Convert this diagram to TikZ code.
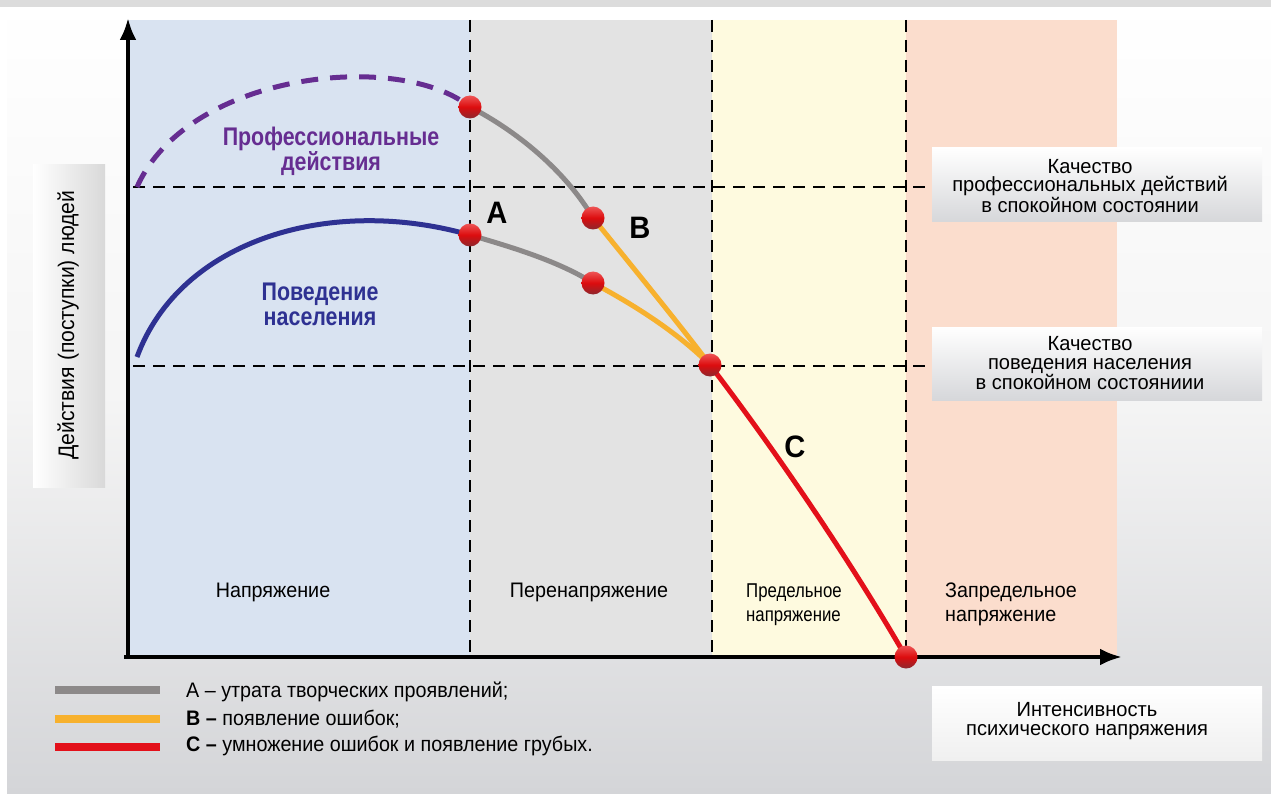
\documentclass[tikz,border=0pt]{standalone}
\usepackage{fontspec}
\setmainfont{Liberation Sans}[FakeStretch=0.94]
\newfontfamily\condfont{Liberation Sans}[FakeStretch=0.84]
\newfontfamily\boxfont{Liberation Sans}[FakeStretch=0.98]
\usetikzlibrary{arrows.meta}
\definecolor{bgbot}{RGB}{212,213,216}
\definecolor{topbar}{RGB}{220,220,220}
\definecolor{zblue}{RGB}{217,227,241}
\definecolor{zgray}{RGB}{227,227,227}
\definecolor{zyellow}{RGB}{254,250,223}
\definecolor{zpeach}{RGB}{251,221,205}
\definecolor{cpurple}{RGB}{102,45,145}
\definecolor{cnavy}{RGB}{46,49,146}
\definecolor{cgray}{RGB}{140,137,137}
\definecolor{corange}{RGB}{247,177,46}
\definecolor{cred}{RGB}{227,16,26}
\definecolor{dottop}{RGB}{238,85,85}
\definecolor{dotbot}{RGB}{140,40,46}
\definecolor{boxbot}{RGB}{214,215,218}
\tikzset{
  dsh/.style={black, line width=2.6pt, dash pattern=on 12pt off 8pt},
  axisline/.style={black, line width=4pt, -{Latex[length=22pt,width=17pt]}},
  curve/.style={line width=5pt},
  dotball/.style={circle, minimum size=23pt, inner sep=0pt, top color=dottop, bottom color=dotbot, middle color=red!70!dotbot},
  lbl/.style={font=\fontsize{21}{24}\selectfont, align=center, inner sep=0pt},
  boldlbl/.style={font=\condfont\fontsize{25.5}{25}\selectfont\bfseries, align=center, inner sep=0pt},
  boxtxt/.style={font=\boxfont\fontsize{20.5}{18.5}\selectfont, align=center, inner sep=0pt},
  letter/.style={font=\fontsize{31}{32}\selectfont\bfseries, inner sep=0pt},
  legline/.style={line width=8pt},
  legtxt/.style={font=\fontsize{21}{22}\selectfont, anchor=west, inner sep=0pt},
  infobox/.style={top color=white, bottom color=boxbot, draw=none},
}
\begin{document}
\begin{tikzpicture}[x=1pt,y=-1pt]
\useasboundingbox (0,0) rectangle (1271,794);
% background
\shade[top color=white, bottom color=bgbot, middle color=gray!8] (0,0) rectangle (1271,794);
\fill[topbar] (0,0) rectangle (1271,7);
\fill[white] (0,7) rectangle (7,794);
% zones
\fill[zblue] (128,20) rectangle (470,655);
\fill[zgray] (470,20) rectangle (712,655);
\fill[zyellow] (712,20) rectangle (906,655);
\fill[zpeach] (906,20) rectangle (1117,655);
% info boxes
\shade[infobox] (932,148) rectangle (1262,222);
\shade[infobox] (932,327) rectangle (1262,400);
\shade[top color=white, bottom color=gray!12] (932,686) rectangle (1262,760);
\shade[left color=white, right color=gray!30] (33,165) rectangle (105,487);
% dashed grid
\coordinate (h1a) at (133,187); \coordinate (h1b) at (930,187);
\coordinate (h2a) at (133,366); \coordinate (h2b) at (930,366);
\coordinate (v1a) at (470,20); \coordinate (v1b) at (470,655);
\coordinate (v2a) at (712,20); \coordinate (v2b) at (712,655);
\coordinate (v3a) at (906,20); \coordinate (v3b) at (906,655);
\draw[dsh] (v1a) -- (v1b);
\draw[dsh] (v2a) -- (v2b);
\draw[dsh] (v3a) -- (v3b);
\draw[dsh] (h1a) -- (h1b);
\draw[dsh] (h2a) -- (h2b);
% axes
\coordinate (o) at (128,657);
\coordinate (ytip) at (128,18);
\coordinate (xs) at (124,657);
\coordinate (xtip) at (1122,657);
\draw[axisline] (o) -- (ytip);
\draw[axisline] (xs) -- (xtip);
% curve points
\coordinate (pstart) at (137,187);
\coordinate (nstart) at (137,357);
\coordinate (p1) at (470,107);
\coordinate (p2) at (593,218);
\coordinate (p3) at (470,235);
\coordinate (p4) at (593,283);
\coordinate (p5) at (710,365);
\coordinate (p6) at (906,657);
% curves
\draw[curve, cpurple, dash pattern=on 17pt off 12pt] (pstart) .. controls (188,72) and (400,50) .. (p1);
\draw[curve, cnavy] (nstart) .. controls (180,240) and (330,195) .. (p3);
\draw[curve, cgray] (p1) .. controls (515,130) and (565,170) .. (p2);
\draw[curve, cgray] (p3) .. controls (515,248) and (560,262) .. (p4);
\draw[curve, corange] (p2) .. controls (635,270) and (680,325) .. (p5);
\draw[curve, corange] (p4) .. controls (640,308) and (680,335) .. (p5);
\draw[curve, cred] (p5) .. controls (775,450) and (850,560) .. (p6);
% dots
\node[dotball] (d1) at (p1) {};
\node[dotball] (d2) at (p2) {};
\node[dotball] (d3) at (p3) {};
\node[dotball] (d4) at (p4) {};
\node[dotball] (d5) at (p5) {};
\node[dotball] (d6) at (p6) {};
% curve labels
\node[boldlbl, text=cpurple] (tprof) at (331,151) {Профессиональные\\действия};
\node[boldlbl, text=cnavy] (tpov) at (320,304) {Поведение\\населения};
\node[letter] (la) at (497,213) {A};
\node[letter] (lb) at (640,228) {B};
\node[letter] (lc) at (795,447) {C};
% zone labels
\node[lbl] (z1) at (273,592) {Напряжение};
\node[lbl] (z2) at (589,592) {Перенапряжение};
\node[lbl, font=\condfont\fontsize{20}{24}\selectfont, align=left, anchor=west] (z3) at (746,605) {Предельное\\напряжение};
\node[lbl, align=left, anchor=west] (z4) at (945,604) {Запредельное\\напряжение};
% boxes text
\node[boxtxt] (b1) at (1090,186) {Качество\\профессиональных действий\\в спокойном состоянии};
\node[boxtxt] (b2) at (1090,363) {Качество\\поведения населения\\в спокойном состояниии};
\node[boxtxt] (b3) at (1087,721) {Интенсивность\\психического напряжения};
\node[lbl, font=\fontsize{22.5}{24}\selectfont, rotate=90] (ylab) at (68,325) {Действия (поступки) людей};
% legend
\coordinate (la1) at (55,690); \coordinate (la2) at (160,690);
\coordinate (lb1) at (55,719); \coordinate (lb2) at (160,719);
\coordinate (lc1) at (55,747); \coordinate (lc2) at (160,747);
\draw[legline, cgray] (la1) -- (la2);
\draw[legline, corange] (lb1) -- (lb2);
\draw[legline, cred] (lc1) -- (lc2);
\node[legtxt] (ta) at (186,692) {А – утрата творческих проявлений;};
\node[legtxt] (tb) at (186,719) {\textbf{В –} появление ошибок;};
\node[legtxt] (tc) at (186,746) {\textbf{С –} умножение ошибок и появление грубых.};
\end{tikzpicture}
\end{document}
